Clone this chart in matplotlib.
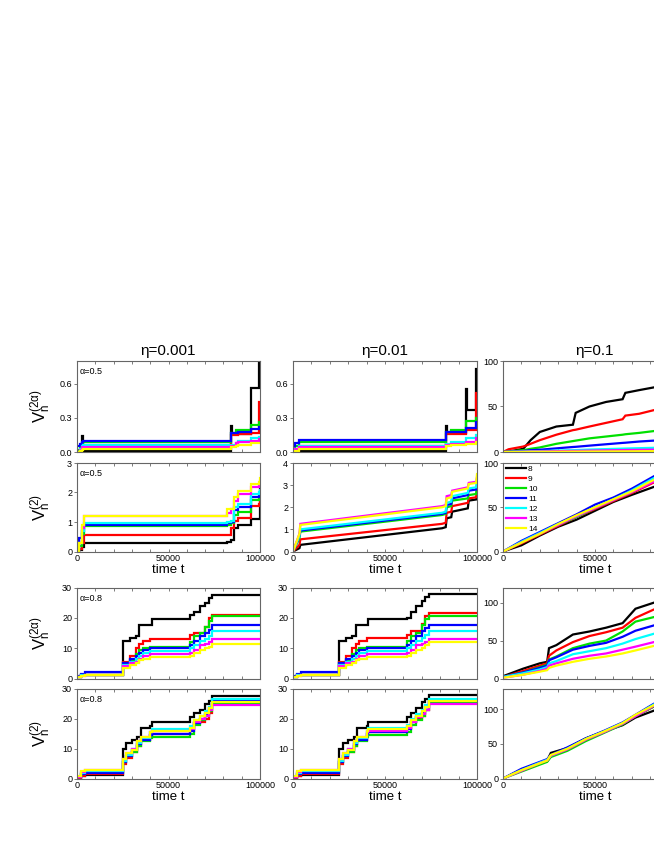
import matplotlib.pyplot as plt
from matplotlib.ticker import MultipleLocator, FormatStrFormatter

plt.rcParams['font.family'] = ['Liberation Sans', 'DejaVu Sans']
plt.rcParams['mathtext.fontset'] = 'custom'
plt.rcParams['mathtext.rm'] = 'Liberation Sans'
plt.rcParams['mathtext.it'] = 'Liberation Sans:italic'

sizes = ['8', '9', '10', '11', '12', '13', '14']
colors = ['black', 'red', '#00e000', 'blue', 'cyan', 'magenta', 'yellow']
etas = ['η=0.001', 'η=0.01', 'η=0.1']
alphas = ['α=0.5', 'α=0.5', 'α=0.8', 'α=0.8']

# ---- eta = 0.001 ----
t_r1c1 = [0, 1500, 3000, 3500, 84000, 84500, 87000, 88000, 95000, 99600, 100000]
v_r1c1 = [
    [0.0, 0.0, 0.14, 0.01, 0.23, 0.16, 0.16, 0.16, 0.56, 0.80, 0.80],
    [0.0, 0.02, 0.05, 0.06, 0.15, 0.15, 0.15, 0.16, 0.17, 0.44, 0.44],
    [0.02, 0.05, 0.08, 0.09, 0.17, 0.17, 0.19, 0.19, 0.24, 0.26, 0.26],
    [0.05, 0.07, 0.09, 0.095, 0.17, 0.17, 0.17, 0.18, 0.20, 0.22, 0.22],
    [0.0, 0.03, 0.05, 0.06, 0.06, 0.06, 0.08, 0.10, 0.12, 0.13, 0.13],
    [0.0, 0.02, 0.04, 0.045, 0.05, 0.05, 0.08, 0.09, 0.10, 0.11, 0.11],
    [0.0, 0.01, 0.02, 0.025, 0.04, 0.04, 0.05, 0.06, 0.08, 0.08, 0.08],
]

t_r2c1 = [0, 1000, 2500, 4000, 80000, 82000, 84000, 86000, 88000, 95000, 99500, 100000]
v_r2c1 = [
    [0, 0.05, 0.15, 0.3, 0.3, 0.32, 0.4, 0.8, 0.9, 1.1, 1.1, 2.2],
    [0, 0.1, 0.3, 0.55, 0.55, 0.57, 0.8, 1.05, 1.15, 1.55, 1.6, 1.75],
    [0, 0.2, 0.6, 0.85, 0.85, 0.9, 0.95, 1.25, 1.35, 1.75, 1.8, 1.9],
    [0, 0.45, 0.7, 0.9, 0.9, 0.95, 1.0, 1.4, 1.5, 1.85, 1.9, 2.0],
    [0, 0.3, 0.7, 0.95, 0.95, 1.0, 1.05, 1.5, 1.6, 1.95, 2.0, 2.1],
    [0, 0.3, 0.8, 1.2, 1.2, 1.3, 1.45, 1.7, 1.95, 2.2, 2.3, 2.4],
    [0, 0.3, 0.9, 1.2, 1.2, 1.45, 1.45, 1.85, 2.05, 2.3, 2.35, 2.5],
]

t_r3c1 = [0, 2000, 4500, 24000, 25000, 29000, 32000, 34000, 36000, 40000,
          41000, 60000, 62000, 64000, 67000, 70000, 72000, 74000, 100000]
v_r3c1 = [
    [0.5, 1.0, 1.2, 1.2, 12.5, 13.5, 14.0, 17.5, 17.5, 17.5, 19.5, 19.5, 21.0, 22.0, 24.0, 25.0, 26.5, 27.5, 27.5],
    [0.5, 1.0, 1.2, 1.2, 5.5, 7.5, 10.0, 11.5, 12.5, 13.0, 13.0, 13.0, 14.5, 15.0, 15.0, 17.0, 20.0, 21.0, 21.0],
    [0.5, 1.0, 1.2, 1.2, 5.0, 6.0, 8.0, 9.5, 10.0, 10.5, 10.5, 10.5, 12.0, 14.0, 15.0, 17.0, 19.0, 20.5, 20.5],
    [0.8, 1.5, 2.0, 2.0, 5.0, 6.5, 7.5, 8.5, 9.5, 10.2, 10.2, 10.2, 11.0, 12.5, 14.0, 15.0, 16.0, 17.5, 17.5],
    [0.5, 1.0, 1.3, 1.3, 4.5, 5.5, 6.5, 7.5, 8.5, 9.0, 9.0, 9.0, 10.0, 11.0, 12.5, 13.0, 14.0, 15.5, 15.5],
    [0.5, 0.9, 1.1, 1.1, 4.0, 5.0, 5.5, 6.5, 7.5, 8.0, 8.0, 8.0, 8.5, 9.5, 11.0, 11.5, 12.0, 13.0, 13.0],
    [0.4, 0.8, 1.0, 1.0, 3.5, 4.5, 5.0, 6.0, 6.5, 7.0, 7.0, 7.0, 7.5, 8.5, 9.5, 10.0, 10.5, 11.5, 11.5],
]

t_r4c1 = [0, 2000, 4500, 24000, 25000, 27000, 30000, 33000, 35000, 40000,
          41000, 60000, 62000, 64000, 67000, 70000, 72000, 74000, 100000]
v_r4c1 = [
    [0.3, 0.8, 1.2, 1.2, 10.0, 12.0, 13.0, 14.0, 17.0, 17.5, 19.0, 19.0, 20.5, 22.0, 23.0, 25.0, 26.0, 27.5, 27.5],
    [0.3, 1.0, 1.5, 1.5, 5.0, 7.0, 9.0, 11.0, 13.0, 14.5, 15.0, 15.0, 16.5, 18.5, 19.0, 20.0, 22.0, 25.0, 25.0],
    [0.5, 1.5, 2.2, 2.2, 5.5, 7.5, 9.0, 11.0, 12.5, 13.5, 14.0, 14.0, 15.0, 18.0, 19.5, 21.0, 22.5, 25.0, 25.0],
    [0.5, 1.5, 2.0, 2.0, 5.5, 7.5, 9.5, 11.5, 13.0, 14.5, 15.0, 15.0, 16.0, 18.5, 20.0, 21.5, 23.5, 26.0, 26.0],
    [0.6, 2.0, 2.5, 2.5, 6.0, 8.0, 10.0, 12.0, 13.5, 15.5, 16.5, 16.5, 17.5, 19.5, 21.0, 22.5, 24.0, 26.5, 26.5],
    [0.6, 2.2, 2.8, 2.8, 6.5, 8.5, 10.0, 12.5, 14.0, 15.5, 15.8, 15.8, 16.5, 19.0, 20.0, 21.0, 23.0, 24.5, 24.5],
    [0.7, 2.5, 3.0, 3.0, 6.5, 8.5, 9.5, 12.5, 14.0, 15.5, 16.0, 16.0, 17.0, 19.5, 21.0, 22.0, 23.5, 25.5, 25.5],
]

# ---- eta = 0.01 ----
t_r1c2 = [0, 1000, 3500, 83000, 83500, 86000, 94000, 94500, 99500, 100000]
v_r1c2 = [
    [0, 0, 0.01, 0.23, 0.17, 0.17, 0.55, 0.37, 0.73, 0.73],
    [0, 0.02, 0.05, 0.16, 0.16, 0.16, 0.19, 0.19, 0.52, 0.52],
    [0, 0.05, 0.09, 0.18, 0.18, 0.19, 0.27, 0.27, 0.30, 0.30],
    [0.05, 0.08, 0.105, 0.18, 0.18, 0.18, 0.21, 0.21, 0.26, 0.26],
    [0, 0.03, 0.055, 0.07, 0.07, 0.09, 0.12, 0.12, 0.15, 0.15],
    [0, 0.03, 0.045, 0.06, 0.06, 0.07, 0.09, 0.09, 0.12, 0.12],
    [0, 0.01, 0.03, 0.05, 0.05, 0.06, 0.07, 0.07, 0.09, 0.09],
]

t_r2c2 = [0, 3500, 4000, 81000, 83000, 83500, 86000, 86500, 95000, 95500, 99500, 100000]
v_r2c2 = [
    [0, 0.15, 0.3, 1.05, 1.1, 1.5, 1.55, 1.8, 1.95, 2.3, 2.35, 2.45],
    [0, 0.3, 0.55, 1.25, 1.3, 1.75, 1.8, 2.05, 2.2, 2.4, 2.45, 2.8],
    [0, 0.6, 0.9, 1.65, 1.7, 2.0, 2.05, 2.3, 2.4, 2.55, 2.6, 2.95],
    [0, 0.7, 0.95, 1.7, 1.75, 2.1, 2.15, 2.4, 2.55, 2.75, 2.8, 3.05],
    [0, 0.7, 1.0, 1.75, 1.8, 2.2, 2.25, 2.5, 2.65, 2.85, 2.9, 3.15],
    [0, 0.8, 1.25, 2.05, 2.1, 2.5, 2.55, 2.75, 2.9, 3.1, 3.15, 3.35],
    [0, 0.8, 1.2, 2.0, 2.05, 2.4, 2.45, 2.7, 2.85, 3.05, 3.1, 3.5],
]

t_r3c2 = [0, 2000, 4500, 24000, 25000, 29000, 32000, 34000, 36000, 40000,
          41000, 60000, 62000, 64000, 67000, 70000, 72000, 74000, 100000]
v_r3c2 = [
    [0.5, 1.0, 1.2, 1.2, 12.5, 13.5, 14.0, 17.5, 17.5, 17.5, 19.5, 19.5, 20.0, 22.0, 24.0, 25.5, 27.0, 27.8, 27.8],
    [0.5, 1.0, 1.2, 1.2, 5.5, 7.5, 10.0, 11.5, 12.5, 13.3, 13.3, 13.3, 14.5, 15.5, 15.5, 18.0, 20.5, 21.7, 21.7],
    [0.5, 1.0, 1.2, 1.2, 5.0, 6.0, 8.0, 9.5, 10.0, 10.5, 10.5, 10.5, 12.5, 14.0, 15.0, 17.5, 19.5, 20.5, 20.5],
    [0.8, 1.5, 2.0, 2.0, 5.0, 6.5, 7.5, 8.5, 9.5, 10.2, 10.2, 10.2, 11.0, 12.5, 14.0, 15.5, 16.5, 17.5, 17.5],
    [0.5, 1.0, 1.3, 1.3, 4.5, 5.5, 6.5, 7.5, 8.5, 9.0, 9.0, 9.0, 10.0, 11.0, 12.5, 13.5, 14.5, 15.5, 15.5],
    [0.5, 0.9, 1.1, 1.1, 4.0, 5.0, 5.5, 6.5, 7.5, 8.0, 8.0, 8.0, 8.5, 9.5, 11.0, 11.5, 12.0, 13.0, 13.0],
    [0.4, 0.8, 1.0, 1.0, 3.5, 4.5, 5.0, 6.0, 6.5, 7.0, 7.0, 7.0, 7.5, 8.5, 9.5, 10.0, 11.0, 12.0, 12.0],
]

t_r4c2 = [0, 2000, 4500, 24000, 25000, 27000, 30000, 33000, 35000, 40000,
          41000, 60000, 62000, 64000, 67000, 70000, 72000, 74000, 100000]
v_r4c2 = [
    [0.3, 0.8, 1.2, 1.2, 10.0, 12.0, 13.0, 14.0, 17.0, 17.5, 19.0, 19.0, 20.5, 22.0, 23.5, 25.5, 26.5, 28.0, 28.0],
    [0.3, 1.0, 1.5, 1.5, 5.0, 7.0, 9.0, 11.0, 13.0, 15.0, 15.5, 15.5, 17.0, 19.0, 20.0, 21.0, 23.0, 25.5, 25.5],
    [0.5, 1.5, 2.2, 2.2, 5.5, 7.5, 9.0, 11.0, 12.5, 14.0, 14.5, 14.5, 15.5, 18.0, 19.5, 21.0, 23.0, 25.5, 25.5],
    [0.5, 1.5, 2.0, 2.0, 5.5, 7.5, 9.5, 11.5, 13.0, 15.0, 15.5, 15.5, 16.5, 19.0, 20.5, 22.0, 24.0, 26.0, 26.0],
    [0.6, 2.0, 2.5, 2.5, 6.0, 8.0, 10.0, 12.0, 13.5, 16.0, 17.0, 17.0, 18.0, 20.0, 21.5, 23.0, 24.5, 26.5, 26.5],
    [0.6, 2.2, 2.8, 2.8, 6.5, 8.5, 10.0, 12.5, 14.0, 15.5, 16.0, 16.0, 17.0, 19.0, 20.5, 21.5, 23.0, 25.0, 25.0],
    [0.7, 2.5, 3.0, 3.0, 6.5, 8.5, 9.5, 12.5, 14.0, 16.0, 16.5, 16.5, 17.5, 19.5, 21.0, 22.5, 24.0, 25.8, 25.8],
]

# ---- eta = 0.1 ----
t_r1c3 = [0, 3000, 11000, 15000, 20000, 29000, 38000, 39500, 47000, 56000, 65000, 66500, 74000, 82000, 100000]
v_r1c3 = [
    [0, 0.5, 3.5, 13, 22, 28, 30, 43, 50, 55, 58, 65, 68, 71, 75],
    [0, 3, 6, 9, 13, 19, 24, 24.5, 28, 32, 36, 40, 42, 46, 50],
    [0, 0.5, 2, 3.5, 5, 9, 12, 12.5, 15, 17, 19, 19.5, 21, 23, 25],
    [0, 0.2, 1, 2, 2.5, 4, 5.5, 5.7, 7, 8.5, 10, 10.2, 11.5, 12.5, 14],
    [0, 0.1, 0.5, 0.8, 1, 1.5, 2, 2.1, 2.7, 3.2, 3.7, 3.8, 4.2, 4.6, 5.2],
    [0, 0.1, 0.3, 0.5, 0.6, 0.9, 1.2, 1.2, 1.5, 1.8, 2.1, 2.2, 2.4, 2.6, 3.0],
    [0, 0, 0.1, 0.2, 0.2, 0.3, 0.4, 0.4, 0.5, 0.6, 0.7, 0.7, 0.8, 0.9, 1.0],
]

t_r2c3 = [0, 10000, 20000, 30000, 40000, 50000, 60000, 70000, 82000, 100000]
v_r2c3 = [
    [0, 7, 18, 28, 36, 46, 56, 64, 73, 88],
    [0, 9, 19, 29, 39, 48, 57, 66, 78, 93],
    [0, 10, 20, 30, 39, 49, 58, 67, 80, 96],
    [0, 12, 22, 32, 42, 53, 61, 71, 85, 102],
    [0, 11, 21, 31, 40, 50, 59, 69, 83, 99],
    [0, 10, 20, 30, 40, 49, 58, 67, 79, 95],
    [0, 10, 20, 31, 41, 50, 59, 68, 81, 97],
]

t_r3c3 = [0, 11000, 20000, 24000, 25000, 29000, 38000, 47000, 56000, 65000, 72000, 82000, 100000]
v_r3c3 = [
    [3, 13, 20, 22, 40, 44, 58, 62, 67, 73, 92, 100, 105],
    [2, 10, 17, 20, 30, 37, 48, 56, 61, 67, 80, 91, 98],
    [2, 8, 15, 18, 25, 29, 40, 46, 50, 62, 75, 81, 88],
    [2, 8, 14, 17, 24, 28, 38, 43, 47, 55, 63, 70, 77],
    [2, 7, 12, 15, 20, 23, 32, 36, 40, 46, 52, 59, 65],
    [1, 5, 10, 13, 17, 20, 26, 30, 33, 38, 42, 48, 53],
    [1, 5, 9, 11, 14, 17, 22, 26, 29, 33, 37, 43, 47],
]

t_r4c3 = [0, 10000, 20000, 24000, 26000, 35000, 45000, 55000, 65000, 72000, 82000, 100000]
v_r4c3 = [
    [0, 12, 22, 26, 37, 44, 58, 68, 77, 88, 98, 115],
    [0, 12, 22, 25, 33, 42, 56, 67, 79, 90, 104, 123],
    [0, 10, 20, 24, 31, 40, 54, 66, 78, 90, 104, 123],
    [0, 14, 24, 28, 34, 45, 58, 69, 81, 92, 108, 127],
    [0, 12, 23, 27, 33, 43, 57, 68, 80, 91, 107, 125],
    [0, 11, 22, 26, 33, 42, 56, 67, 79, 90, 105, 124],
    [0, 12, 22, 26, 34, 43, 57, 68, 80, 92, 106, 125],
]

panels = [
    [(t_r1c1, v_r1c1), (t_r1c2, v_r1c2), (t_r1c3, v_r1c3)],
    [(t_r2c1, v_r2c1), (t_r2c2, v_r2c2), (t_r2c3, v_r2c3)],
    [(t_r3c1, v_r3c1), (t_r3c2, v_r3c2), (t_r3c3, v_r3c3)],
    [(t_r4c1, v_r4c1), (t_r4c2, v_r4c2), (t_r4c3, v_r4c3)],
]
styles = [
    ['steps-post', 'steps-post', 'default'],
    ['steps-post', 'default', 'default'],
    ['steps-post', 'steps-post', 'default'],
    ['steps-post', 'steps-post', 'default'],
]
ylims = [[0.8, 0.8, 100], [3, 4, 100], [30, 30, 120], [30, 30, 130]]
yticks = [
    [[0, 0.3, 0.6], [0, 0.3, 0.6], [0, 50, 100]],
    [[0, 1, 2, 3], [0, 1, 2, 3, 4], [0, 50, 100]],
    [[0, 10, 20, 30], [0, 10, 20, 30], [0, 50, 100]],
    [[0, 10, 20, 30], [0, 10, 20, 30], [0, 50, 100]],
]
xticklabels = ['0', '50000', '100000']
ylabels = [r'$\mathregular{V_n^{(2\alpha)}}$', r'$\mathregular{V_n^{(2)}}$',
           r'$\mathregular{V_n^{(2\alpha)}}$', r'$\mathregular{V_n^{(2)}}$']

W, H = 654, 846
fig = plt.figure(figsize=(W / 100, H / 100), dpi=100)

lefts = [77, 293, 503]
widths = [183, 184, 184]
tops = [361, 463, 587.5, 688.5]
bots = [452, 551.5, 678.5, 778.5]

spine_col = '#666666'
for r in range(4):
    for c in range(3):
        ax = fig.add_axes([lefts[c] / W, 1 - bots[r] / H, widths[c] / W, (bots[r] - tops[r]) / H])
        t, vals = panels[r][c]
        for k in range(7):
            ax.plot(t, vals[k], color=colors[k], lw=1.6, drawstyle=styles[r][c],
                    label=sizes[k], solid_joinstyle='miter')
        ax.set_xlim(0, 100000)
        ax.set_ylim(0, ylims[r][c])
        ax.set_xticks([0, 50000, 100000])
        # the third column runs past the page edge, so its last label is not shown
        ax.set_xticklabels(xticklabels if c < 2 else xticklabels[:2] + [''])
        ax.xaxis.set_minor_locator(MultipleLocator(10000))
        ax.set_yticks(yticks[r][c])
        if r == 0 and c < 2:
            ax.yaxis.set_major_formatter(FormatStrFormatter('%.1f'))
        for s in ax.spines.values():
            s.set_color(spine_col)
            s.set_linewidth(0.8)
        ax.tick_params(axis='x', which='both', direction='in', top=True,
                       length=2, width=0.6, color=spine_col, labelsize=6.5, pad=1.5)
        ax.tick_params(axis='y', which='both', direction='out',
                       length=2.5, width=0.6, color=spine_col, labelsize=6.5, pad=1)
        if r in (0, 2):
            ax.tick_params(axis='x', labelbottom=False)
        else:
            ax.set_xlabel('time t', fontsize=9.5, labelpad=1)
        if r == 0:
            ax.set_title(etas[c], fontsize=11, pad=4)
        if c == 0:
            ax.set_ylabel(ylabels[r], fontsize=12)
            ax.yaxis.set_label_coords(-0.13, 0.5)
            ax.text(0.015, 0.93, alphas[r], transform=ax.transAxes,
                    fontsize=6.5, va='top', ha='left')
        if r == 1 and c == 2:
            ax.legend(loc='upper left', frameon=False, fontsize=6,
                      handlelength=2.4, labelspacing=0.25, borderaxespad=0.2,
                      handletextpad=0.3, borderpad=0.1)

fig.savefig('out.png', dpi=100)
